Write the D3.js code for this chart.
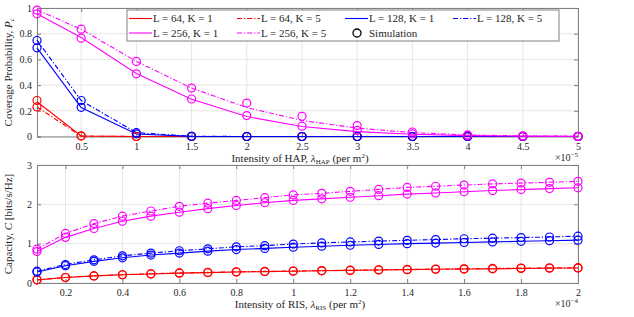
<!DOCTYPE html>
<html>
<head>
<meta charset="utf-8">
<style>
  body { margin: 0; background: #fff; }
  svg text { font-family: "Liberation Serif", "DejaVu Serif", serif; fill: #262626; }
  .grid line { stroke: #e6e6e6; stroke-width: 1; }
  .line { fill: none; stroke-width: 1.1; }
  .sim { fill: none; stroke-width: 1.2; }
</style>
</head>
<body>
<script src="https://cdn.jsdelivr.net/npm/d3@7"></script>
<div id="chart"></div>
<script>
// ---- top panel: coverage probability vs HAP intensity (x 1e-5) ----
var hapX = [0.1, 0.5, 1, 1.5, 2, 2.5, 3, 3.5, 4, 4.5, 5];
var cov64k1  = [0.27, 0.004, 0, 0, 0, 0, 0, 0, 0, 0, 0];
var cov64k5  = [0.23, 0.003, 0, 0, 0, 0, 0, 0, 0, 0, 0];
var cov128k1 = [0.69, 0.225, 0.02, 0.001, 0, 0, 0, 0, 0, 0, 0];
var cov128k5 = [0.75, 0.28, 0.03, 0.002, 0, 0, 0, 0, 0, 0, 0];
var cov256k1 = [0.955, 0.77, 0.49, 0.29, 0.155, 0.078, 0.038, 0.017, 0.007, 0.003, 0.001];
var cov256k5 = [0.985, 0.835, 0.584, 0.377, 0.225, 0.125, 0.065, 0.03, 0.012, 0.005, 0.002];
// simulation points
var covSim64k1  = [0.28, 0.006, 0, 0, 0, 0, 0, 0, 0, 0, 0];
var covSim64k5  = [0.23, 0.003, 0, 0, 0, 0, 0, 0, 0, 0, 0];
var covSim128k1 = [0.69, 0.227, 0.02, 0.001, 0, 0, 0, 0, 0, 0, 0];
var covSim128k5 = [0.747, 0.28, 0.03, 0.002, 0, 0, 0, 0, 0, 0, 0];
var covSim256k1 = [0.955, 0.765, 0.488, 0.292, 0.163, 0.08, 0.047, 0.02, 0.008, 0.003, 0.001];
var covSim256k5 = [0.984, 0.835, 0.584, 0.377, 0.26, 0.157, 0.085, 0.035, 0.012, 0.005, 0.002];

// ---- bottom panel: capacity vs RIS intensity (x 1e-4) ----
var risX = [0.1, 0.2, 0.3, 0.4, 0.5, 0.6, 0.7, 0.8, 0.9, 1.0, 1.1, 1.2, 1.3, 1.4, 1.5, 1.6, 1.7, 1.8, 1.9, 2.0];
var cap64k1  = [0.08, 0.14, 0.18, 0.21, 0.23, 0.25, 0.265, 0.28, 0.29, 0.30, 0.31, 0.32, 0.33, 0.34, 0.35, 0.355, 0.36, 0.37, 0.375, 0.38];
var cap64k5  = [0.08, 0.14, 0.18, 0.21, 0.235, 0.255, 0.27, 0.285, 0.295, 0.305, 0.315, 0.325, 0.335, 0.345, 0.355, 0.36, 0.37, 0.38, 0.385, 0.39];
var cap128k1 = [0.28, 0.44, 0.55, 0.64, 0.71, 0.76, 0.81, 0.85, 0.88, 0.91, 0.935, 0.96, 0.98, 1.0, 1.015, 1.03, 1.045, 1.06, 1.075, 1.09];
var cap128k5 = [0.30, 0.47, 0.59, 0.69, 0.76, 0.82, 0.87, 0.92, 0.95, 0.99, 1.02, 1.045, 1.065, 1.085, 1.105, 1.125, 1.14, 1.155, 1.17, 1.19];
var cap256k1 = [0.80, 1.16, 1.385, 1.57, 1.70, 1.80, 1.89, 1.97, 2.04, 2.10, 2.14, 2.18, 2.22, 2.26, 2.29, 2.32, 2.35, 2.375, 2.40, 2.42];
var cap256k5 = [0.86, 1.26, 1.51, 1.70, 1.83, 1.95, 2.03, 2.10, 2.17, 2.24, 2.28, 2.33, 2.38, 2.43, 2.46, 2.49, 2.52, 2.54, 2.56, 2.585];

var colors = { 64: "#ff0000", 128: "#0000ff", 256: "#ff00ff" };
var dashDot = "5,2,1.2,2";
var serif = "'Liberation Serif', 'DejaVu Serif', serif";

var svg = d3.select("#chart").append("svg")
    .attr("width", 634)
    .attr("height", 317)
    .attr("font-family", serif);

function panel(opt) {
  var x = d3.scaleLinear().domain(opt.xDomain).range([37, 578]);
  var y = d3.scaleLinear().domain(opt.yDomain).range([opt.bottom, opt.top]);
  var g = svg.append("g");

  // grid
  var grid = g.append("g").attr("class", "grid");
  grid.selectAll(".gx").data(opt.xTicks).enter().append("line")
      .attr("x1", d => x(d)).attr("x2", d => x(d))
      .attr("y1", opt.top).attr("y2", opt.bottom);
  grid.selectAll(".gy").data(opt.yTicks).enter().append("line")
      .attr("x1", 37).attr("x2", 578)
      .attr("y1", d => y(d)).attr("y2", d => y(d));

  // axes (ticks inside, MATLAB style)
  var axB = g.append("g").attr("transform", "translate(0," + opt.bottom + ")")
      .call(d3.axisBottom(x).tickValues(opt.xTicks).tickSize(-4).tickPadding(6).tickFormat(d3.format("")));
  var axT = g.append("g").attr("transform", "translate(0," + opt.top + ")")
      .call(d3.axisTop(x).tickValues(opt.xTicks).tickSize(-4).tickFormat(""));
  var axL = g.append("g").attr("transform", "translate(37,0)")
      .call(d3.axisLeft(y).tickValues(opt.yTicks).tickSize(-4).tickPadding(5).tickFormat(d3.format("")));
  var axR = g.append("g").attr("transform", "translate(578,0)")
      .call(d3.axisRight(y).tickValues(opt.yTicks).tickSize(-4).tickFormat(""));
  [axB, axT, axL, axR].forEach(function(a) {
    a.attr("font-family", serif);
    a.selectAll("path, line").attr("stroke", "#808080");
    a.selectAll("text").style("font-size", "10px").attr("fill", "#262626");
  });

  var line = d3.line().x((d, i) => x(opt.xs[i])).y(d => y(d));

  opt.series.forEach(function(s) {
    g.append("path").datum(s.values)
        .attr("class", "line")
        .attr("stroke", colors[s.L])
        .attr("stroke-dasharray", s.K === 5 ? dashDot : null)
        .attr("d", line);
  });
  opt.series.forEach(function(s) {
    g.selectAll(null).data(s.sim).enter().append("circle")
        .attr("class", "sim")
        .attr("stroke", colors[s.L])
        .attr("cx", (d, i) => x(opt.xs[i]))
        .attr("cy", d => y(d))
        .attr("r", 4);
  });

  // x label
  var xl = g.append("text").attr("x", 300).attr("y", opt.bottom + 25)
      .attr("text-anchor", "middle").style("font-size", "11px");
  xl.append("tspan").text("Intensity of " + opt.sub + ", ");
  xl.append("tspan").style("font-style", "italic").text("λ");
  xl.append("tspan").attr("dy", 2).style("font-size", "7px").text(opt.sub);
  xl.append("tspan").attr("dy", -2).text(" (per m");
  xl.append("tspan").attr("dy", -4).style("font-size", "7px").text("2");
  xl.append("tspan").attr("dy", 4).text(")");

  // exponent
  var ex = g.append("text").attr("x", 578).attr("y", opt.bottom + 24)
      .attr("text-anchor", "end").style("font-size", "10px");
  ex.append("tspan").text("×10");
  ex.append("tspan").attr("dy", -4).style("font-size", "7px").text(opt.exp);

  // y label
  var yl = g.append("text")
      .attr("transform", "translate(12," + ((opt.top + opt.bottom) / 2) + ") rotate(-90)")
      .attr("text-anchor", "middle").style("font-size", "11px");
  opt.yLabel(yl);
}

panel({
  xDomain: [0.1, 5], yDomain: [0, 1], top: 8, bottom: 136.5,
  xTicks: [0.5, 1, 1.5, 2, 2.5, 3, 3.5, 4, 4.5, 5],
  yTicks: [0, 0.2, 0.4, 0.6, 0.8, 1],
  xs: hapX, sub: "HAP", exp: "−5",
  series: [
    { L: 64,  K: 1, values: cov64k1,  sim: covSim64k1 },
    { L: 64,  K: 5, values: cov64k5,  sim: covSim64k5 },
    { L: 128, K: 1, values: cov128k1, sim: covSim128k1 },
    { L: 128, K: 5, values: cov128k5, sim: covSim128k5 },
    { L: 256, K: 1, values: cov256k1, sim: covSim256k1 },
    { L: 256, K: 5, values: cov256k5, sim: covSim256k5 }
  ],
  yLabel: function(t) {
    t.append("tspan").text("Coverage Probability, ");
    t.append("tspan").style("font-style", "italic").text("P");
    t.append("tspan").attr("dy", 2).style("font-size", "7px").text("c");
  }
});

panel({
  xDomain: [0.1, 2], yDomain: [0, 3], top: 165, bottom: 283,
  xTicks: [0.2, 0.4, 0.6, 0.8, 1, 1.2, 1.4, 1.6, 1.8, 2],
  yTicks: [0, 1, 2, 3],
  xs: risX, sub: "RIS", exp: "−4",
  series: [
    { L: 64,  K: 1, values: cap64k1,  sim: cap64k1 },
    { L: 64,  K: 5, values: cap64k5,  sim: cap64k5 },
    { L: 128, K: 1, values: cap128k1, sim: cap128k1 },
    { L: 128, K: 5, values: cap128k5, sim: cap128k5 },
    { L: 256, K: 1, values: cap256k1, sim: cap256k1 },
    { L: 256, K: 5, values: cap256k5, sim: cap256k5 }
  ],
  yLabel: function(t) {
    t.append("tspan").text("Capacity, ");
    t.append("tspan").style("font-style", "italic").text("C");
    t.append("tspan").text(" [bits/s/Hz]");
  }
});

// legend
var legendItems = [
  { L: 64,  K: 1, label: "L = 64, K = 1",   col: 0, row: 0 },
  { L: 64,  K: 5, label: "L = 64, K = 5",   col: 1, row: 0 },
  { L: 128, K: 1, label: "L = 128, K = 1",  col: 2, row: 0 },
  { L: 128, K: 5, label: "L = 128, K = 5",  col: 3, row: 0 },
  { L: 256, K: 1, label: "L = 256, K = 1",  col: 0, row: 1 },
  { L: 256, K: 5, label: "L = 256, K = 5",  col: 1, row: 1 },
  { L: 0,   K: 0, label: "Simulation",      col: 2, row: 1 }
];
var colX = [129, 237, 345, 453];
var rowY = [18.5, 33];
var lg = svg.append("g");
lg.append("rect").attr("x", 127).attr("y", 10).attr("width", 432).attr("height", 31)
    .attr("fill", "#fff").attr("stroke", "#808080").attr("stroke-width", 1);
legendItems.forEach(function(d) {
  var x0 = colX[d.col], y0 = rowY[d.row];
  if (d.L) {
    lg.append("line").attr("x1", x0).attr("x2", x0 + 23).attr("y1", y0).attr("y2", y0)
        .attr("stroke", colors[d.L]).attr("stroke-width", 1.1)
        .attr("stroke-dasharray", d.K === 5 ? dashDot : null);
  } else {
    lg.append("circle").attr("cx", x0 + 12).attr("cy", y0).attr("r", 4)
        .attr("fill", "none").attr("stroke", "#000").attr("stroke-width", 1.3);
  }
  lg.append("text").attr("x", x0 + 24).attr("y", y0 + 3.8).style("font-size", "11px").text(d.label);
});
</script>
</body>
</html>
